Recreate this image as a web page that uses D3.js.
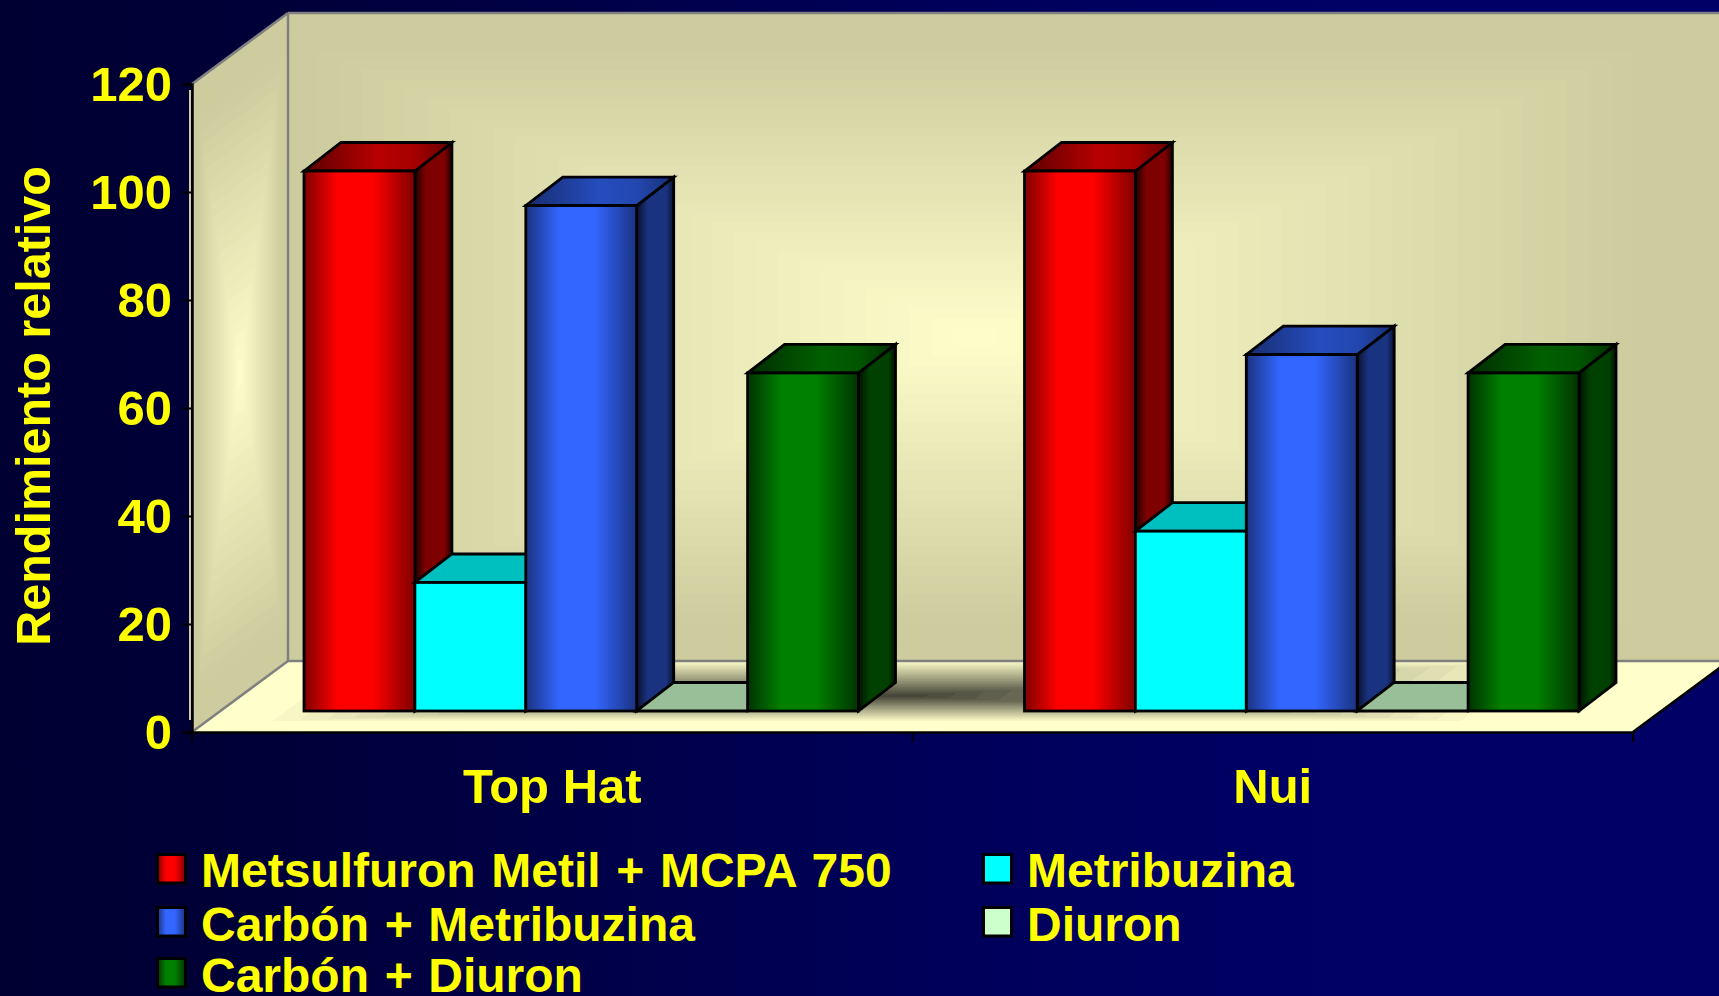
<!DOCTYPE html>
<html><head><meta charset="utf-8">
<script src="https://cdn.jsdelivr.net/npm/d3@7"></script>
<style>html,body{margin:0;padding:0;background:#000044;overflow:hidden}svg{display:block}
text{font-family:"Liberation Sans",Arial,sans-serif;font-weight:bold;fill:#ffff00}</style>
</head><body><div id="c"></div>
<script>
const categories = ["Top Hat", "Nui"];
const seriesNames = ["Metsulfuron Metil + MCPA 750", "Metribuzina", "Carbón + Metribuzina", "Diuron", "Carbón + Diuron"];
const valuesTopHat = [100, 23.8, 93.6, 0, 62.6];
const valuesNui = [100, 33.3, 66, 0, 62.6];
const yTicks = [0, 20, 40, 60, 80, 100, 120];
const yTitle = "Rendimiento relativo";
const palette = [
  {id:"red", edge:"#7f0000", mid:"#ff0000", topEdge:"#5a0000", topMid:"#b80000", sideEdge:"#200000", sideMid:"#7f0000"},
  {id:"cyan", flat:"#00ffff", top:"#00bfbf", side:"#009f9f"},
  {id:"blue", edge:"#1a3380", mid:"#3366ff", topEdge:"#172d70", topMid:"#264dbf", sideEdge:"#081230", sideMid:"#1a3380"},
  {id:"pale", flat:"#ccffcc", top:"#99bf99", side:"#7f9f7f"},
  {id:"green", edge:"#003300", mid:"#008000", topEdge:"#002a00", topMid:"#006000", sideEdge:"#001200", sideMid:"#004000"}
];

const W = 1719, H = 996;
const svg = d3.select("#c").append("svg").attr("width", W).attr("height", H);
const defs = svg.append("defs");

// scales
const y = d3.scaleLinear().domain([0, 120]).range([732, 84]);
const x0 = d3.scaleBand().domain(categories).range([192, 1633]);
const x1 = d3.scaleBand().domain(seriesNames).range([0, 554.5]);
const wallDX = 96, wallDY = 71;       // chart depth
const barOffX = 112, barOffY = 21;    // bar front plane
const barDX = 37, barDY = 28.5;       // bar depth
const left = x0.range()[0], right = x0.range()[1];
const y0 = y(0), yT = y(120);

// background
const bg = defs.append("linearGradient").attr("id", "bg");
[[0,"#000033"],[.15,"#000038"],[.55,"#00005a"],[.8,"#000066"],[1,"#000066"]].forEach(s =>
  bg.append("stop").attr("offset", s[0]).attr("stop-color", s[1]));
svg.append("rect").attr("width", W).attr("height", H).attr("fill", "url(#bg)");

// helpers
const poly = pts => pts.map(p => p.join(",")).join(" ");
function bandGrad(id, edge, mid, stops) {
  const g = defs.append("linearGradient").attr("id", id);
  (stops || [[0,0],[.3,1],[.62,1],[1,0]]).forEach(s =>
    g.append("stop").attr("offset", s[0]).attr("stop-color", d3.interpolateRgb(edge, mid)(s[1])));
}
palette.forEach(p => {
  if (p.flat) return;
  bandGrad(p.id + "F", p.edge, p.mid);
  bandGrad(p.id + "T", p.topEdge, p.topMid, [[0,0],[.5,1],[.75,.8],[1,.1]]);
  bandGrad(p.id + "S", p.sideEdge, p.sideMid, [[0,0],[.3,1],[.8,1],[1,0]]);
});

// back wall: rectangular path gradient
const wallClip = defs.append("clipPath").attr("id", "wallClip");
wallClip.append("rect").attr("x", left + wallDX).attr("y", yT - wallDY).attr("width", W).attr("height", y0 - yT);
const wallRamp = s => d3.interpolateRgb("#ffffcc", "#cccc9e")(Math.min(1, s * 1.12));
const wg = svg.append("g").attr("clip-path", "url(#wallClip)");
const wallC = [975, (yT - wallDY + y0 - wallDY) / 2], wallHW = 745, wallHH = (y0 - yT) / 2;
wg.append("rect").attr("x", 0).attr("y", 0).attr("width", W).attr("height", H).attr("fill", "#cccc9e");
d3.range(1, 0, -1 / 34).forEach(s => {
  wg.append("rect").attr("x", wallC[0] - s * wallHW).attr("y", wallC[1] - s * wallHH)
    .attr("width", 2 * s * wallHW).attr("height", 2 * s * wallHH).attr("fill", wallRamp(s));
});

// side wall
const sideCorners = [[left, yT], [left + wallDX, yT - wallDY], [left + wallDX, y0 - wallDY], [left, y0]];
const sideC = [d3.mean(sideCorners, d => d[0]), d3.mean(sideCorners, d => d[1])];
d3.range(1, 0, -1 / 24).forEach(s => {
  svg.append("polygon").attr("points", poly(sideCorners.map(c => [sideC[0] + s * (c[0] - sideC[0]), sideC[1] + s * (c[1] - sideC[1])])))
    .attr("fill", wallRamp(s));
});

// floor
const floorCorners = [[left, y0], [right, y0], [right + wallDX, y0 - wallDY], [left + wallDX, y0 - wallDY]];
const floorClip = defs.append("clipPath").attr("id", "floorClip");
floorClip.append("polygon").attr("points", poly(floorCorners));
const fg = svg.append("g").attr("clip-path", "url(#floorClip)");
fg.append("polygon").attr("points", poly(floorCorners)).attr("fill", "#ffffcc");
const floorRamp = d3.interpolateRgb("#3f3f33", "#ffffcc");
const skew = yy => (y0 - yy) * wallDX / wallDY;
const floorCX = 900, floorCY = 696;
d3.range(1, 0, -1 / 24).forEach(s => {
  const t = floorCY - 36 * s, b = floorCY + 26 * s, hw = 620 * s;
  fg.append("polygon").attr("points", poly([
    [floorCX - hw + skew(b) - 48, b], [floorCX + hw + skew(b) - 48, b],
    [floorCX + hw + skew(t) - 48, t], [floorCX - hw + skew(t) - 48, t]
  ])).attr("fill", floorRamp(s));
});

// wall edges
const gray = "#808080";
const edgeLine = (a, b, c, d, col, w) => svg.append("line").attr("x1", a).attr("y1", b).attr("x2", c).attr("y2", d)
  .attr("stroke", col).attr("stroke-width", w);
edgeLine(left, yT, left + wallDX, yT - wallDY, gray, 2.5);
edgeLine(left + wallDX, yT - wallDY, W, yT - wallDY, gray, 2.5);
edgeLine(left + wallDX, yT - wallDY, left + wallDX, y0 - wallDY, gray, 2.5);
edgeLine(left, y0, left + wallDX, y0 - wallDY, gray, 2.5);
edgeLine(left + wallDX, y0 - wallDY, W, y0 - wallDY, gray, 2.5);
edgeLine(left - 2, yT + 6, left - 2, y0 - 12, "#cccc9e", 2);

// bars
const allValues = [valuesTopHat, valuesNui];
const barsG = svg.append("g").attr("stroke", "#000").attr("stroke-width", 2.8).attr("stroke-linejoin", "miter");
categories.forEach((cat, ci) => {
  seriesNames.forEach((name, si) => {
    const v = allValues[ci][si], p = palette[si];
    const xa = x0(cat) + barOffX + x1(name), xb = xa + x1.bandwidth();
    const yb = y(0) - barOffY, yt = y(v) - barOffY;
    const f = k => p.flat ? (k === "F" ? p.flat : k === "T" ? p.top : p.side) : `url(#${p.id}${k})`;
    barsG.append("polygon").attr("fill", f("S")).attr("points", poly([[xb, yt], [xb + barDX, yt - barDY], [xb + barDX, yb - barDY], [xb, yb]]));
    barsG.append("polygon").attr("fill", f("T")).attr("points", poly([[xa, yt], [xa + barDX, yt - barDY], [xb + barDX, yt - barDY], [xb, yt]]));
    barsG.append("rect").attr("fill", f("F")).attr("x", xa).attr("y", yt).attr("width", xb - xa).attr("height", yb - yt);
  });
});

// axes
const yAxis = d3.axisLeft(y).tickValues(yTicks).tickSize(9).tickPadding(11);
const yg = svg.append("g").attr("transform", `translate(${left},1)`).call(yAxis);
yg.select(".domain").attr("stroke", "#000").attr("stroke-width", 2.5).attr("transform", "translate(0,-1)");
yg.selectAll(".tick line").attr("stroke", "#000").attr("stroke-width", 2).attr("transform", "translate(0,-1)");
yg.selectAll("text").attr("fill", "#ffff00").style("font-size", "49px").style("font-family", '"Liberation Sans",Arial,sans-serif').style("font-weight", "bold");

const xg = svg.append("g").attr("transform", `translate(0,${y0})`).call(d3.axisBottom(x0).tickSize(0).tickPadding(36));
xg.select(".domain").attr("stroke", "#000").attr("stroke-width", 2.5);
xg.selectAll("text").attr("fill", "#ffff00").style("font-size", "49px").style("font-family", '"Liberation Sans",Arial,sans-serif').style("font-weight", "bold");
const catEdges = categories.map(c => x0(c)).concat(right);
svg.append("g").selectAll("line").data(catEdges).join("line")
  .attr("x1", d => d).attr("x2", d => d).attr("y1", y0).attr("y2", y0 + 10)
  .attr("stroke", "#000").attr("stroke-width", 2);
edgeLine(right, y0, right + wallDX, y0 - wallDY, "#000", 2.5);

// axis title
svg.append("text").text(yTitle).attr("transform", "translate(50,406) rotate(-90)")
  .attr("text-anchor", "middle").style("font-size", "48.5px");

// legend
const legendCols = [156, 982], legendRows = [853, 906, 957], legendBase = [886.5, 940.5, 992];
const legendCell = [[0,0],[1,0],[0,1],[1,1],[0,2]];
seriesNames.forEach((name, i) => {
  const [c, r] = legendCell[i], p = palette[i];
  svg.append("rect").attr("x", legendCols[c] + 1.5).attr("y", legendRows[r] + 1.5).attr("width", 28).attr("height", 28.5)
    .attr("fill", p.flat || `url(#${p.id}F)`).attr("stroke", "#000").attr("stroke-width", 3);
  svg.append("text").text(name).attr("x", legendCols[c] + 45).attr("y", legendBase[r])
    .style("font-size", "48px").style("word-spacing", "2.3px");
});
</script></body></html>
